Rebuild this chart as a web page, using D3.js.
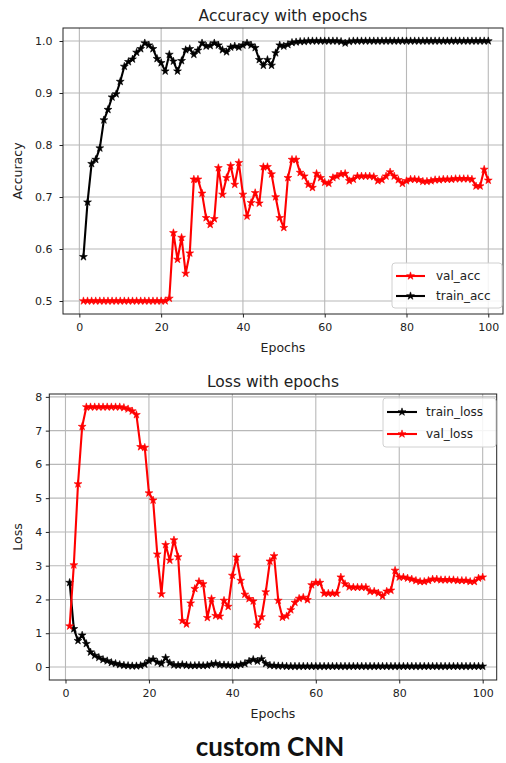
<!DOCTYPE html>
<html><head><meta charset="utf-8">
<script src="https://cdn.jsdelivr.net/npm/d3@7"></script>
<style>body{margin:0;background:#fff}svg{display:block}</style>
</head><body><svg id="c" width="506" height="763"></svg>
<script>
const valAcc = [0.5,0.5,0.5,0.5,0.5,0.5,0.5,0.5,0.5,0.5,
0.5,0.5,0.5,0.5,0.5,0.5,0.5,0.5,0.5,0.5,
0.5,0.505,0.631,0.58,0.622,0.553,0.592,0.734,0.734,0.707,
0.66,0.647,0.658,0.756,0.705,0.737,0.76,0.724,0.766,0.705,
0.663,0.689,0.708,0.688,0.758,0.758,0.744,0.70,0.66,0.641,
0.737,0.772,0.772,0.747,0.74,0.724,0.718,0.745,0.737,0.728,
0.726,0.737,0.74,0.744,0.745,0.731,0.734,0.74,0.74,0.74,
0.74,0.739,0.731,0.733,0.74,0.748,0.74,0.733,0.726,0.731,
0.734,0.734,0.733,0.73,0.73,0.731,0.733,0.733,0.734,0.734,
0.734,0.735,0.735,0.735,0.735,0.734,0.721,0.721,0.753,0.732];
const trainAcc = [0.585,0.69,0.764,0.772,0.794,0.848,0.868,0.892,0.898,0.922,
0.951,0.96,0.965,0.978,0.985,0.996,0.992,0.985,0.966,0.958,
0.942,0.974,0.961,0.942,0.962,0.983,0.985,0.974,0.982,0.996,
0.99,0.991,0.996,0.992,0.983,0.979,0.988,0.99,0.988,0.992,
0.996,0.992,0.987,0.964,0.953,0.964,0.953,0.977,0.992,0.99,
0.993,0.997,0.998,0.999,0.999,1,1,1,1,1,
1,1,1,0.999,0.996,0.999,1,1,1,1,
1,1,1,1,1,1,1,1,1,1,
1,1,1,1,1,1,1,1,1,1,
1,1,1,1,1,1,1,1,1,1];
const trainLoss = [2.5,1.13,0.78,0.94,0.69,0.44,0.34,0.28,0.22,0.18,
0.13,0.1,0.07,0.05,0.04,0.03,0.03,0.04,0.08,0.18,
0.23,0.14,0.1,0.27,0.12,0.06,0.05,0.07,0.05,0.04,
0.04,0.05,0.04,0.05,0.08,0.1,0.06,0.06,0.05,0.05,
0.04,0.07,0.1,0.17,0.22,0.17,0.24,0.1,0.05,0.04,
0.03,0.03,0.02,0.02,0.02,0.02,0.02,0.02,0.02,0.02,
0.02,0.02,0.02,0.02,0.02,0.02,0.02,0.02,0.02,0.02,
0.02,0.02,0.02,0.02,0.02,0.02,0.02,0.02,0.02,0.02,
0.02,0.02,0.02,0.02,0.02,0.02,0.02,0.02,0.02,0.02,
0.02,0.02,0.02,0.02,0.02,0.02,0.02,0.02,0.02,0.02];
const valLoss = [1.21,3.02,5.42,7.12,7.7,7.7,7.7,7.7,7.7,7.7,
7.7,7.7,7.7,7.68,7.64,7.58,7.47,6.52,6.5,5.15,
4.94,3.34,2.16,3.62,3.16,3.76,3.26,1.37,1.27,1.89,
2.32,2.53,2.46,1.46,2.02,1.52,1.5,1.97,1.79,2.71,
3.25,2.56,2.15,2.02,1.95,1.24,1.48,2.22,3.13,3.29,
1.97,1.47,1.51,1.69,1.91,2.03,2.06,1.99,2.43,2.5,
2.5,2.18,2.18,2.18,2.18,2.66,2.46,2.37,2.36,2.36,
2.36,2.36,2.24,2.24,2.19,2.1,2.24,2.27,2.86,2.66,
2.66,2.63,2.6,2.56,2.53,2.53,2.56,2.6,2.6,2.58,
2.58,2.58,2.58,2.56,2.56,2.56,2.53,2.53,2.63,2.66];
const epochTicks = [0,20,40,60,80,100];
const accTicks = [0.5,0.6,0.7,0.8,0.9,1.0];
const lossTicks = [0,1,2,3,4,5,6,7,8];

const svg = d3.select('#c');
const FONT = 'DejaVu Sans, sans-serif';

function panel(c) {
  const x = d3.scaleLinear().domain(c.xDom).range([c.x0, c.x1]);
  const y = d3.scaleLinear().domain(c.yDom).range([c.y1, c.y0]);
  const g = svg.append('g');
  g.append('g').selectAll('line').data(epochTicks).join('line')
    .attr('x1', d => x(d)).attr('x2', d => x(d)).attr('y1', c.y0).attr('y2', c.y1)
    .attr('stroke', '#b8b8b8').attr('stroke-width', 1.1);
  g.append('g').selectAll('line').data(c.yTicks).join('line')
    .attr('y1', d => y(d)).attr('y2', d => y(d)).attr('x1', c.x0).attr('x2', c.x1)
    .attr('stroke', '#b8b8b8').attr('stroke-width', 1.1);
  const ax = g.append('g').attr('transform', `translate(0,${c.y1})`)
    .call(d3.axisBottom(x).tickValues(epochTicks).tickSize(3.5).tickPadding(c.xPad).tickSizeOuter(0));
  const ay = g.append('g').attr('transform', `translate(${c.x0},0)`)
    .call(d3.axisLeft(y).tickValues(c.yTicks).tickFormat(c.yFmt).tickSize(3.5).tickPadding(c.yPad).tickSizeOuter(0));
  [ax, ay].forEach(a => {
    a.select('.domain').remove();
    a.selectAll('text').attr('font-family', FONT).attr('font-size', 11).attr('fill', '#222');
    a.selectAll('line').attr('stroke', '#222');
  });
  const line = d3.line().x((d, i) => x(i + 1)).y(d => y(d));
  const star = d3.symbol(d3.symbolStar, 19);
  c.series.forEach(s => {
    const sg = g.append('g');
    sg.append('path').datum(s.values).attr('d', line).attr('fill', 'none')
      .attr('stroke', s.color).attr('stroke-width', 2.1).attr('stroke-linejoin', 'round');
    sg.selectAll('path.m').data(s.values).join('path').attr('class', 'm')
      .attr('d', star).attr('transform', (d, i) => `translate(${x(i + 1)},${y(d)})`)
      .attr('fill', s.color).attr('stroke', s.color).attr('stroke-width', 0.6);
  });
  g.append('rect').attr('x', c.x0).attr('y', c.y0).attr('width', c.x1 - c.x0).attr('height', c.y1 - c.y0)
    .attr('fill', 'none').attr('stroke', '#222').attr('stroke-width', 1);
  g.append('text').attr('x', (c.x0 + c.x1) / 2).attr('y', c.y0 - 7.5).attr('text-anchor', 'middle')
    .attr('font-family', FONT).attr('font-size', 15.5).attr('fill', '#222').text(c.title);
  g.append('text').attr('x', (c.x0 + c.x1) / 2).attr('y', c.y1 + 38).attr('text-anchor', 'middle')
    .attr('font-family', FONT).attr('font-size', 12.5).attr('fill', '#222').text('Epochs');
  g.append('text').attr('transform', `translate(22,${(c.y0 + c.y1) / 2}) rotate(-90)`).attr('text-anchor', 'middle')
    .attr('font-family', FONT).attr('font-size', 12.5).attr('fill', '#222').text(c.ylabel);
  const L = c.legend;
  const lg = g.append('g');
  lg.append('rect').attr('x', L.x).attr('y', L.y).attr('width', L.w).attr('height', L.h).attr('rx', 3)
    .attr('fill', '#fff').attr('fill-opacity', 0.85).attr('stroke', '#d0d0d0');
  L.items.forEach((it, k) => {
    const yy = L.y + L.first + k * L.step;
    lg.append('line').attr('x1', L.lx0).attr('x2', L.lx1).attr('y1', yy).attr('y2', yy)
      .attr('stroke', it.color).attr('stroke-width', 2.1);
    lg.append('path').attr('d', star).attr('transform', `translate(${(L.lx0 + L.lx1) / 2},${yy})`)
      .attr('fill', it.color).attr('stroke', it.color).attr('stroke-width', 0.6);
    lg.append('text').attr('x', L.tx).attr('y', yy).attr('dy', '0.35em')
      .attr('font-family', FONT).attr('font-size', 12).attr('fill', '#222').text(it.name);
  });
}

panel({
  x0: 63, x1: 503, y0: 28, y1: 314,
  xDom: [-4.0, 103.6], yDom: [0.475, 1.025],
  yTicks: accTicks, yFmt: d3.format('.1f'), xPad: 5.5, yPad: 7,
  title: 'Accuracy with epochs', ylabel: 'Accuracy',
  series: [{values: valAcc, color: '#ff0000'}, {values: trainAcc, color: '#000000'}],
  legend: {x: 392, y: 263, w: 110, h: 45, first: 13, step: 20, lx0: 396, lx1: 425, tx: 436,
    items: [{name: 'val_acc', color: '#ff0000'}, {name: 'train_acc', color: '#000000'}]}
});

panel({
  x0: 49.3, x1: 496.7, y0: 394, y1: 680,
  xDom: [-3.88, 103.36], yDom: [-0.385, 8.085],
  yTicks: lossTicks, yFmt: d3.format('d'), xPad: 5.5, yPad: 3.5,
  title: 'Loss with epochs', ylabel: 'Loss',
  series: [{values: trainLoss, color: '#000000'}, {values: valLoss, color: '#ff0000'}],
  legend: {x: 383, y: 398, w: 113, h: 49, first: 14, step: 22, lx0: 387, lx1: 417, tx: 426,
    items: [{name: 'train_loss', color: '#000000'}, {name: 'val_loss', color: '#ff0000'}]}
});

svg.append('text').attr('x', 270).attr('y', 756).attr('text-anchor', 'middle')
  .attr('font-family', 'Lato, "Open Sans", sans-serif').attr('font-weight', 'bold')
  .attr('font-size', 26).attr('fill', '#111').text('custom CNN');
</script>
</body></html>
